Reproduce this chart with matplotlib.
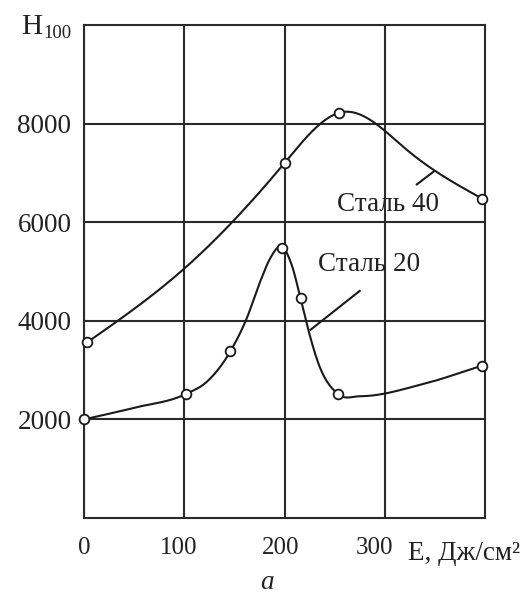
import numpy as np
import matplotlib
matplotlib.use("Agg")
import matplotlib.pyplot as plt

# ---- data ----
x_ticks = [0, 100, 200, 300]
x_label_pos = [0, 94, 196, 290]          # printed labels sit slightly left of the grid lines
x_tick_labels = ["0", "100", "200", "300"]
y_ticks = [2000, 4000, 6000, 8000]
y_tick_labels = ["2000", "4000", "6000", "8000"]

# Сталь 40: measured points (markers) and traced curve
s40_pts_x = [3, 200, 254, 397]
s40_pts_y = [3560, 7200, 8220, 6480]
s40_curve_x = [3, 101, 200, 258, 322, 397]
s40_curve_y = [3560, 5077, 7200, 8235, 7468, 6480]

# Сталь 20: measured points (markers) and traced curve
s20_pts_x = [0, 102, 146, 198, 216, 253, 397]
s20_pts_y = [2000, 2519, 3380, 5468, 4458, 2519, 3090]
s20_curve_x = [0, 50, 102, 122, 146, 162, 176, 186, 196, 207, 216, 224, 234, 253, 275, 339, 397]
s20_curve_y = [2000, 2235, 2519, 2754, 3380, 4034, 4808, 5278, 5510, 5145, 4458, 3798, 3125, 2519, 2470, 2721, 3090]

labels = ["Сталь 40", "Сталь 20"]
label_x = [303, 284]
label_y = [6363, 5151]
leader40_x = [332, 349]
leader40_y = [6767, 7030]
leader20_x = [226, 275]
leader20_y = [3818, 4606]

XMAX, YMAX = 400, 10000


def hermite(x, y, m, n=600):
    h = np.diff(x)
    xx = np.linspace(x[0], x[-1], n)
    idx = np.clip(np.searchsorted(x, xx) - 1, 0, len(x) - 2)
    t = (xx - x[idx]) / h[idx]
    h00 = 2 * t**3 - 3 * t**2 + 1
    h10 = t**3 - 2 * t**2 + t
    h01 = -2 * t**3 + 3 * t**2
    h11 = t**3 - t**2
    yy = h00 * y[idx] + h10 * h[idx] * m[idx] + h01 * y[idx + 1] + h11 * h[idx] * m[idx + 1]
    return xx, yy


def natural_spline(xs, ys):
    """C2 natural cubic spline drawing of a traced curve (rendering only)."""
    x = np.asarray(xs, float)
    y = np.asarray(ys, float)
    n = len(x)
    h = np.diff(x)
    A = np.zeros((n, n))
    b = np.zeros(n)
    A[0, 0] = A[-1, -1] = 1
    for i in range(1, n - 1):
        A[i, i - 1] = h[i - 1]
        A[i, i] = 2 * (h[i - 1] + h[i])
        A[i, i + 1] = h[i]
        b[i] = 6 * ((y[i + 1] - y[i]) / h[i] - (y[i] - y[i - 1]) / h[i - 1])
    M = np.linalg.solve(A, b)
    m = np.zeros(n)
    for i in range(n - 1):
        m[i] = (y[i + 1] - y[i]) / h[i] - h[i] * (2 * M[i] + M[i + 1]) / 6
    m[-1] = (y[-1] - y[-2]) / h[-1] + h[-1] * (M[-2] + 2 * M[-1]) / 6
    return hermite(x, y, m)


def smooth_local(xs, ys):
    """Cubic Hermite with 3-point slopes, flat at local extrema (rendering only)."""
    x = np.asarray(xs, float)
    y = np.asarray(ys, float)
    h = np.diff(x)
    d = np.diff(y) / h
    m = np.zeros_like(y)
    m[0], m[-1] = d[0], d[-1]
    for k in range(1, len(x) - 1):
        if d[k - 1] * d[k] <= 0:
            m[k] = 0.0
        else:
            m[k] = (h[k] * d[k - 1] + h[k - 1] * d[k]) / (h[k - 1] + h[k])
    return hermite(x, y, m)


plt.rcParams['font.family'] = ['Liberation Serif', 'DejaVu Serif']
ink = '#2a2a2a'
W, H = 527, 595
fig = plt.figure(figsize=(W / 100, H / 100), dpi=100)
ax = fig.add_axes([84 / W, 1 - 518 / H, (485 - 84) / W, (518 - 25) / H])
ax.set_xlim(0, XMAX)
ax.set_ylim(0, YMAX)

for s in ax.spines.values():
    s.set_color(ink)
    s.set_linewidth(1.5)

ax.xaxis.remove_overlapping_locs = False
ax.set_xticks(x_ticks)
ax.set_xticklabels([])
ax.set_xticks(x_label_pos, minor=True)
ax.set_xticklabels(x_tick_labels, minor=True)
ax.set_yticks(y_ticks)
ax.set_yticklabels(y_tick_labels)
ax.tick_params(axis='both', which='both', length=0, colors='#222222')
ax.tick_params(axis='x', which='minor', pad=14, labelsize=18)
ax.tick_params(axis='y', pad=9, labelsize=19.5)
ax.grid(True, which='major', color=ink, linewidth=1.5)
ax.set_axisbelow(True)

sx, sy = natural_spline(s40_curve_x, s40_curve_y)
ax.plot(sx, sy, color='#1a1a1a', lw=1.5, zorder=3, clip_on=False)
ax.plot(s40_pts_x, s40_pts_y, 'o', ms=7, mfc='white', mec='#1a1a1a', mew=1.3, zorder=4, clip_on=False)

sx, sy = smooth_local(s20_curve_x, s20_curve_y)
ax.plot(sx, sy, color='#1a1a1a', lw=1.5, zorder=3, clip_on=False)
ax.plot(s20_pts_x, s20_pts_y, 'o', ms=7, mfc='white', mec='#1a1a1a', mew=1.3, zorder=4, clip_on=False)

ax.plot(leader40_x, leader40_y, color='#1a1a1a', lw=1.5, zorder=3)
ax.plot(leader20_x, leader20_y, color='#1a1a1a', lw=1.5, zorder=3)
for t, lx, ly in zip(labels, label_x, label_y):
    ax.text(lx, ly, t, fontsize=19.5, ha='center', va='center', color='#222222', zorder=5)

# axis titles
fig.text(21 / W, 1 - 34 / H, "H", fontsize=21, ha='left', va='baseline', color='#222222')
fig.text(43 / W, 1 - 38 / H, "100", fontsize=13.5, ha='left', va='baseline', color='#222222')
fig.text(408 / W, 1 - 560 / H, "E, Дж/см²", fontsize=19.5, ha='left', va='baseline', color='#222222')
fig.text(267 / W, 1 - 589 / H, "а", fontsize=19.5, style='italic', ha='center', va='baseline', color='#222222')

fig.savefig('out.png', dpi=100)
